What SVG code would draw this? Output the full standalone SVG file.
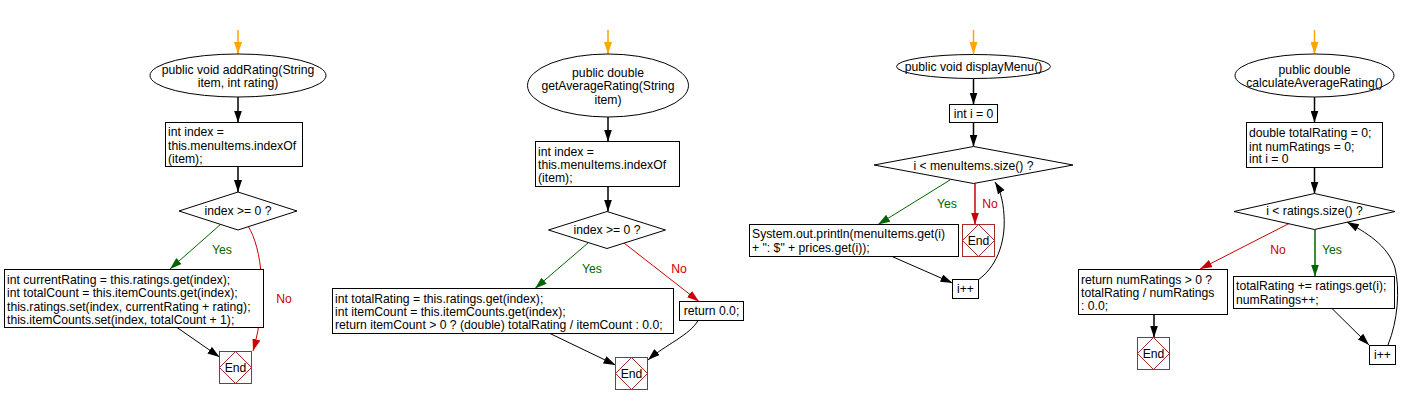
<svg xmlns="http://www.w3.org/2000/svg" width="1414" height="404" viewBox="0 0 1414 404">
<style>
text{font-family:"Liberation Sans",Arial,sans-serif;font-size:12.2px;fill:#000}
.c{text-anchor:middle}
.shape{fill:#fff;stroke:#000;stroke-width:1}
.endb{fill:#fff;stroke:#a52a2a;stroke-width:1}
.endd{fill:none;stroke:#a52a2a;stroke-width:1}
.e{fill:none;stroke:#000;stroke-width:1}
.ev{fill:none;stroke:#000;stroke-width:1.5}
.eo{fill:none;stroke:#ffa500;stroke-width:1.5}
.eg{fill:none;stroke:#006400;stroke-width:1}
.egv{fill:none;stroke:#006400;stroke-width:1.5}
.er{fill:none;stroke:#cc0000;stroke-width:1}
.erv{fill:none;stroke:#cc0000;stroke-width:1.5}
.yes{fill:#006400}
.no{fill:#cc0000}
</style>
<defs>
<marker id="ak" markerWidth="12" markerHeight="8" refX="12" refY="4" orient="auto" markerUnits="userSpaceOnUse"><path d="M0,0 L12,4 L0,8 z" fill="#000"/></marker>
<marker id="ao" markerWidth="12" markerHeight="8" refX="12" refY="4" orient="auto" markerUnits="userSpaceOnUse"><path d="M0,0 L12,4 L0,8 z" fill="#ffa500"/></marker>
<marker id="ag" markerWidth="12" markerHeight="8" refX="12" refY="4" orient="auto" markerUnits="userSpaceOnUse"><path d="M0,0 L12,4 L0,8 z" fill="#006400"/></marker>
<marker id="ar" markerWidth="12" markerHeight="8" refX="12" refY="4" orient="auto" markerUnits="userSpaceOnUse"><path d="M0,0 L12,4 L0,8 z" fill="#cc0000"/></marker>
</defs>

<g id="connectors">
<!-- chart 1 -->
<path class="eo" d="M238,30 L238,54" marker-end="url(#ao)"/>
<path class="ev" d="M238,97 L238,122.5" marker-end="url(#ak)"/>
<path class="ev" d="M238,166.5 L238,192" marker-end="url(#ak)"/>
<path class="eg" d="M221,224 L170,269" marker-end="url(#ag)"/>
<path class="er" d="M248,226 C262,248 268,300 253,351" marker-end="url(#ar)"/>
<path class="e" d="M177,327.5 L219.5,357" marker-end="url(#ak)"/>
<!-- chart 2 -->
<path class="eo" d="M608,30 L608,54" marker-end="url(#ao)"/>
<path class="ev" d="M608,117 L608,141.5" marker-end="url(#ak)"/>
<path class="ev" d="M608,186.5 L608,211.5" marker-end="url(#ak)"/>
<path class="eg" d="M588,243 L535,288.5" marker-end="url(#ag)"/>
<path class="er" d="M624,243 L699,301.5" marker-end="url(#ar)"/>
<path class="e" d="M550,333.5 L615.5,365" marker-end="url(#ak)"/>
<path class="e" d="M698,320.5 C690,335 665,345 648,360" marker-end="url(#ak)"/>
<!-- chart 3 -->
<path class="eo" d="M973.5,30 L973.5,54" marker-end="url(#ao)"/>
<path class="ev" d="M973.5,78.5 L973.5,104.5" marker-end="url(#ak)"/>
<path class="ev" d="M973.5,122.5 L973.5,146.5" marker-end="url(#ak)"/>
<path class="eg" d="M950,180 L878,224.5" marker-end="url(#ag)"/>
<path class="erv" d="M975,183.5 L975,224.5" marker-end="url(#ar)"/>
<path class="e" d="M892,256.5 L952.5,283" marker-end="url(#ak)"/>
<path class="e" d="M978,280 C995,268 1006,245 1004,215 C1003,200 1000,190 995,182" marker-end="url(#ak)"/>
<!-- chart 4 -->
<path class="eo" d="M1314.5,30 L1314.5,54" marker-end="url(#ao)"/>
<path class="ev" d="M1314.5,97 L1314.5,122.5" marker-end="url(#ak)"/>
<path class="ev" d="M1314.5,167.5 L1314.5,193.5" marker-end="url(#ak)"/>
<path class="er" d="M1290,223 L1200,269" marker-end="url(#ar)"/>
<path class="egv" d="M1315,229.5 L1315,276.5" marker-end="url(#ag)"/>
<path class="ev" d="M1154,314.5 L1154,337.5" marker-end="url(#ak)"/>
<path class="e" d="M1332,308.5 L1369,345" marker-end="url(#ak)"/>
<path class="e" d="M1388,345 C1398,320 1400,290 1395,268 C1388,245 1365,232 1347,222" marker-end="url(#ak)"/>
</g>

<g id="labels">
<text class="c yes" x="222" y="254">Yes</text>
<text class="c no" x="284" y="303">No</text>
<text class="c yes" x="592" y="273">Yes</text>
<text class="c no" x="679" y="273">No</text>
<text class="c yes" x="947" y="208">Yes</text>
<text class="c no" x="990" y="208">No</text>
<text class="c no" x="1278" y="254">No</text>
<text class="c yes" x="1332" y="254">Yes</text>
</g>

<!-- chart 1 nodes -->
<g id="c1_start">
<ellipse class="shape" cx="238" cy="75.5" rx="88" ry="21.5"/>
<text class="c" x="238" y="74">public void addRating(String</text>
<text class="c" x="238" y="87">item, int rating)</text>
</g>
<g id="c1_index">
<rect class="shape" x="165.5" y="122.5" width="137" height="44"/>
<text x="168" y="136">int index =</text>
<text x="168" y="149.5">this.menuItems.indexOf</text>
<text x="168" y="163">(item);</text>
</g>
<g id="c1_cond">
<polygon class="shape" points="238,192 297,211 238,230 179,211"/>
<text class="c" x="238" y="215">index &gt;= 0 ?</text>
</g>
<g id="c1_body">
<rect class="shape" x="4.5" y="269.5" width="259" height="58"/>
<text x="7" y="283.5">int currentRating = this.ratings.get(index);</text>
<text x="7" y="297">int totalCount = this.itemCounts.get(index);</text>
<text x="7" y="310.5">this.ratings.set(index, currentRating + rating);</text>
<text x="7" y="324">this.itemCounts.set(index, totalCount + 1);</text>
</g>
<g id="c1_end">
<rect class="endb" x="219.5" y="351.5" width="32" height="32"/>
<polygon class="endd" points="235.5,351.5 251.5,367.5 235.5,383.5 219.5,367.5"/>
<text class="c" x="235.5" y="371.5">End</text>
</g>

<!-- chart 2 nodes -->
<g id="c2_start">
<ellipse class="shape" cx="608" cy="85.5" rx="80.5" ry="31.5"/>
<text class="c" x="608" y="77">public double</text>
<text class="c" x="608" y="90">getAverageRating(String</text>
<text class="c" x="608" y="104">item)</text>
</g>
<g id="c2_index">
<rect class="shape" x="535.5" y="141.5" width="144" height="45"/>
<text x="538" y="155.5">int index =</text>
<text x="538" y="169">this.menuItems.indexOf</text>
<text x="538" y="182">(item);</text>
</g>
<g id="c2_cond">
<polygon class="shape" points="607,211.5 665.5,230 607,248.5 548.5,230"/>
<text class="c" x="607" y="234">index &gt;= 0 ?</text>
</g>
<g id="c2_body">
<rect class="shape" x="332.5" y="288.5" width="341" height="45"/>
<text x="335" y="302.5">int totalRating = this.ratings.get(index);</text>
<text x="335" y="315.5">int itemCount = this.itemCounts.get(index);</text>
<text x="335" y="329">return itemCount &gt; 0 ? (double) totalRating / itemCount : 0.0;</text>
</g>
<g id="c2_ret">
<rect class="shape" x="679.5" y="301.5" width="64" height="19"/>
<text class="c" x="711.5" y="315">return 0.0;</text>
</g>
<g id="c2_end">
<rect class="endb" x="615.5" y="357.5" width="32" height="32"/>
<polygon class="endd" points="631.5,357.5 647.5,373.5 631.5,389.5 615.5,373.5"/>
<text class="c" x="631.5" y="377.5">End</text>
</g>

<!-- chart 3 nodes -->
<g id="c3_start">
<ellipse class="shape" cx="973.5" cy="66.5" rx="77" ry="12"/>
<text class="c" x="973.5" y="70.5">public void displayMenu()</text>
</g>
<g id="c3_init">
<rect class="shape" x="949.5" y="104.5" width="48" height="18"/>
<text class="c" x="973.5" y="117.5">int i = 0</text>
</g>
<g id="c3_cond">
<polygon class="shape" points="973.5,146.5 1073,165 973.5,183.5 874,165"/>
<text class="c" x="973.5" y="170">i &lt; menuItems.size() ?</text>
</g>
<g id="c3_body">
<rect class="shape" x="749.5" y="224.5" width="209" height="32"/>
<text x="752" y="238">System.out.println(menuItems.get(i)</text>
<text x="752" y="251.5">+ ": $" + prices.get(i));</text>
</g>
<g id="c3_end">
<rect class="endb" x="962.5" y="224.5" width="32" height="32"/>
<polygon class="endd" points="978.5,224.5 994.5,240.5 978.5,256.5 962.5,240.5"/>
<text class="c" x="978.5" y="244.5">End</text>
</g>
<g id="c3_inc">
<rect class="shape" x="952.5" y="279.5" width="26" height="19"/>
<text class="c" x="965.5" y="293">i++</text>
</g>

<!-- chart 4 nodes -->
<g id="c4_start">
<ellipse class="shape" cx="1314.5" cy="75.5" rx="79.5" ry="21.5"/>
<text class="c" x="1314.5" y="74">public double</text>
<text class="c" x="1314.5" y="87">calculateAverageRating()</text>
</g>
<g id="c4_init">
<rect class="shape" x="1246.5" y="122.5" width="136" height="45"/>
<text x="1249" y="137">double totalRating = 0;</text>
<text x="1249" y="150.5">int numRatings = 0;</text>
<text x="1249" y="163">int i = 0</text>
</g>
<g id="c4_cond">
<polygon class="shape" points="1314.5,193.5 1395,211.5 1314.5,229.5 1234,211.5"/>
<text class="c" x="1314.5" y="215">i &lt; ratings.size() ?</text>
</g>
<g id="c4_ret">
<rect class="shape" x="1078.5" y="269.5" width="149" height="45"/>
<text x="1081" y="283.5">return numRatings &gt; 0 ?</text>
<text x="1081" y="297">totalRating / numRatings</text>
<text x="1081" y="310">: 0.0;</text>
</g>
<g id="c4_end">
<rect class="endb" x="1137.5" y="337.5" width="32" height="32"/>
<polygon class="endd" points="1153.5,337.5 1169.5,353.5 1153.5,369.5 1137.5,353.5"/>
<text class="c" x="1153.5" y="357.5">End</text>
</g>
<g id="c4_body">
<rect class="shape" x="1233.5" y="276.5" width="161" height="32"/>
<text x="1236" y="290">totalRating += ratings.get(i);</text>
<text x="1236" y="303.5">numRatings++;</text>
</g>
<g id="c4_inc">
<rect class="shape" x="1369.5" y="345.5" width="26" height="19"/>
<text class="c" x="1382.5" y="359">i++</text>
</g>
</svg>
